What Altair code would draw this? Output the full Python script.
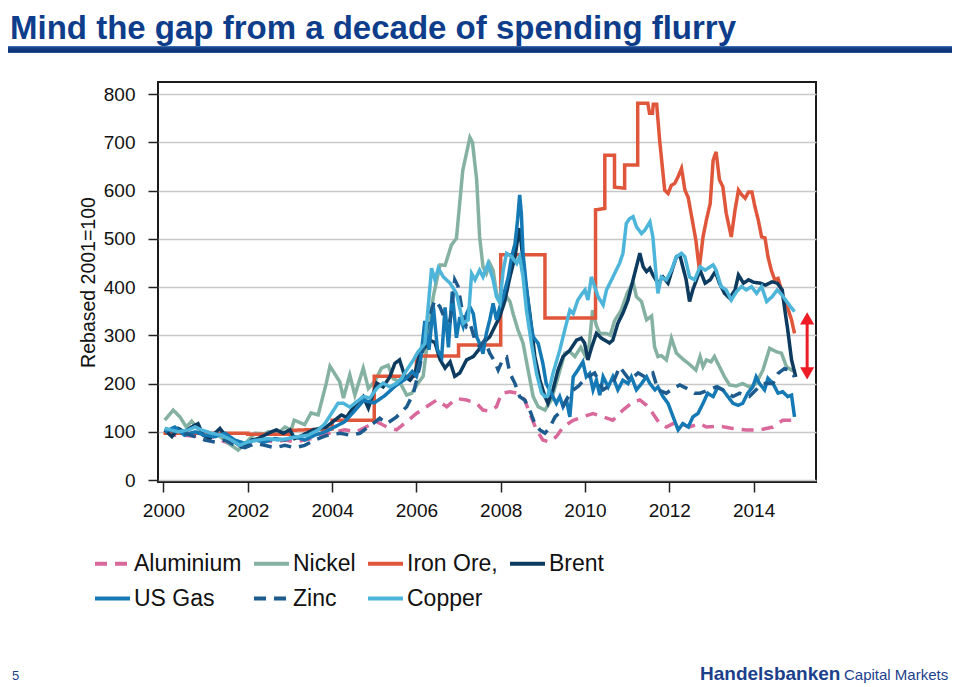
import altair as alt
import pandas as pd

FONT = "Liberation Sans, Arial, Helvetica, sans-serif"

TITLE = "Mind the gap from a decade of spending flurry"
Y_TITLE = "Rebased 2001=100"
X_TICKS = [2000, 2002, 2004, 2006, 2008, 2010, 2012, 2014]
Y_TICKS = [0, 100, 200, 300, 400, 500, 600, 700, 800]

SERIES = ["Aluminium", "Nickel", "Iron Ore,", "Brent", "US Gas", "Zinc", "Copper"]
COLORS = ["#d9689b", "#85b1a3", "#e0563b", "#0c3b5f", "#1479b4", "#1d5b8e", "#4db5da"]
DASHES = [[12, 8], [1, 0], [1, 0], [1, 0], [1, 0], [12, 8], [1, 0]]
# legend is filled column by column (2 rows)
LEGEND_ORDER = ["Aluminium", "US Gas", "Nickel", "Zinc", "Iron Ore,", "Copper", "Brent"]

ALUMINIUM = [(2000.03,100),(2000.27,93),(2000.5,93),(2000.75,91),(2000.98,98),(2001.22,88),(2001.46,79),
    (2001.69,72),(2001.93,76),(2002.17,83),(2002.4,83),(2002.64,79),(2002.88,83),(2003.11,79),(2003.35,83),
    (2003.59,88),(2003.83,95),(2004.06,100),(2004.3,104),(2004.58,100),(2004.85,112),(2005.06,121),(2005.3,110),
    (2005.53,104),(2005.77,121),(2006.0,138),(2006.24,152),(2006.48,166),(2006.72,152),(2006.95,169),(2007.19,166),
    (2007.43,159),(2007.58,145),(2007.74,143),(2007.9,152),(2008.02,180),(2008.22,183),(2008.41,180),(2008.57,166),
    (2008.69,138),(2008.85,104),(2009.0,83),(2009.16,79),(2009.32,90),(2009.48,110),(2009.72,124),(2009.95,131),
    (2010.19,138),(2010.43,131),(2010.66,124),(2010.9,145),(2011.14,162),(2011.3,166),(2011.46,155),(2011.61,138),
    (2011.77,117),(2011.93,110),(2012.09,117),(2012.25,117),(2012.48,110),(2012.72,117),(2012.88,110),(2013.19,112),
    (2013.5,107),(2013.82,104),(2014.14,104),(2014.46,110),(2014.69,124),(2014.93,124)]

NICKEL = [(2000.03,124),(2000.23,145),(2000.39,131),(2000.54,110),(2000.67,122),(2000.78,110),(2000.89,98),
    (2001.05,97),(2001.2,95),(2001.3,93),(2001.53,77),(2001.77,62),(2001.93,75),(2002.17,97),(2002.4,96),
    (2002.48,100),(2002.7,95),(2002.88,110),(2003.03,104),(2003.1,124),(2003.35,115),(2003.5,139),(2003.67,135),
    (2003.78,173),(2003.86,200),(2003.95,236),(2004.18,204),(2004.27,170),(2004.42,218),(2004.54,176),(2004.74,232),
    (2004.86,190),(2005.02,205),(2005.17,232),(2005.33,238),(2005.45,210),(2005.6,204),(2005.77,176),(2005.89,180),
    (2006.04,201),(2006.16,215),(2006.28,297),(2006.4,380),(2006.56,446),(2006.68,445),(2006.83,487),(2006.95,501),
    (2007.1,642),(2007.27,710),(2007.33,700),(2007.43,622),(2007.5,504),(2007.58,442),(2007.66,428),(2007.74,449),
    (2007.82,435),(2007.9,387),(2007.98,373),(2008.06,360),(2008.14,380),(2008.22,370),(2008.29,346),(2008.41,311),
    (2008.53,284),(2008.65,228),(2008.77,173),(2008.89,152),(2009.05,145),(2009.2,166),(2009.36,214),(2009.52,263),
    (2009.64,266),(2009.76,256),(2009.9,275),(2010.0,258),(2010.1,280),(2010.18,352),(2010.27,320),(2010.35,304),
    (2010.5,304),(2010.6,300),(2010.7,330),(2010.86,352),(2011.0,387),(2011.14,411),(2011.22,380),(2011.34,370),
    (2011.46,332),(2011.58,340),(2011.65,276),(2011.73,256),(2011.81,258),(2011.93,249),(2012.05,294),(2012.17,263),
    (2012.33,250),(2012.45,242),(2012.63,228),(2012.73,256),(2012.8,235),(2012.88,249),(2012.99,245),(2013.07,256),
    (2013.19,235),(2013.31,214),(2013.43,197),(2013.59,195),(2013.74,200),(2013.9,193),(2014.06,200),(2014.22,228),
    (2014.38,273),(2014.54,266),(2014.66,263),(2014.78,235),(2014.9,228),(2015.0,225)]

IRON_ORE = [(2000.0,97),(2002.0,97),(2002.0,95),(2003.0,95),(2003.0,103),(2004.0,106),(2004.0,124),(2005.0,124),
    (2005.0,215),(2006.0,215),(2006.0,257),(2007.0,257),(2007.0,280),(2008.0,280),(2008.0,467),(2009.05,467),
    (2009.05,336),(2010.25,336),(2010.25,560),(2010.47,563),(2010.47,673),(2010.7,673),(2010.7,607),(2010.94,605),
    (2010.94,653),(2011.25,653),(2011.25,781),(2011.49,781),(2011.53,760),(2011.6,760),(2011.62,779),(2011.7,779),
    (2011.77,705),(2011.89,601),(2011.97,594),(2012.05,611),(2012.13,615),(2012.21,629),(2012.29,646),(2012.37,601),
    (2012.45,585),(2012.53,546),(2012.63,497),(2012.71,438),(2012.8,504),(2012.88,539),(2012.97,573),(2013.04,663),
    (2013.11,680),(2013.19,622),(2013.27,608),(2013.35,553),(2013.47,504),(2013.56,560),(2013.64,601),(2013.72,591),
    (2013.8,584),(2013.88,597),(2013.96,597),(2014.03,567),(2014.11,539),(2014.19,504),(2014.27,502),(2014.34,463),
    (2014.42,435),(2014.5,415),(2014.58,418),(2014.66,394),(2014.73,366),(2014.81,356),(2014.9,332),(2014.97,304)]

BRENT = [(2000.03,104),(2000.2,90),(2000.35,107),(2000.5,100),(2000.67,110),(2000.82,117),(2000.94,93),
    (2001.1,86),(2001.22,97),(2001.34,107),(2001.46,93),(2001.57,83),(2001.69,79),(2001.85,69),(2001.96,72),
    (2002.09,83),(2002.25,86),(2002.4,93),(2002.56,100),(2002.68,104),(2002.84,97),(2003.0,104),(2003.11,86),
    (2003.23,90),(2003.39,97),(2003.55,104),(2003.71,107),(2003.86,110),(2004.02,121),(2004.22,135),(2004.34,130),
    (2004.54,155),(2004.74,173),(2004.86,149),(2005.06,201),(2005.21,193),(2005.37,214),(2005.49,242),(2005.6,249),
    (2005.73,214),(2005.85,207),(2005.96,220),(2006.08,262),(2006.2,275),(2006.32,290),(2006.44,285),(2006.56,250),
    (2006.68,232),(2006.8,245),(2006.91,215),(2007.03,222),(2007.19,249),(2007.35,256),(2007.47,269),(2007.58,284),
    (2007.74,297),(2007.86,318),(2007.98,339),(2008.1,373),(2008.22,421),(2008.34,463),(2008.41,504),(2008.45,522),
    (2008.57,421),(2008.69,346),(2008.81,256),(2008.93,207),(2009.05,173),(2009.12,159),(2009.24,187),(2009.36,228),
    (2009.48,256),(2009.64,269),(2009.8,290),(2009.91,294),(2009.99,284),(2010.07,249),(2010.16,276),(2010.27,304),
    (2010.39,294),(2010.58,284),(2010.66,290),(2010.78,325),(2010.9,346),(2011.02,373),(2011.14,415),(2011.26,456),
    (2011.3,470),(2011.38,442),(2011.46,432),(2011.54,439),(2011.61,425),(2011.73,408),(2011.85,421),(2011.97,408),
    (2012.09,442),(2012.17,463),(2012.25,466),(2012.32,442),(2012.4,415),(2012.48,370),(2012.56,395),(2012.73,435),
    (2012.85,408),(2012.97,415),(2013.09,432),(2013.19,408),(2013.31,387),(2013.43,377),(2013.56,394),(2013.64,425),
    (2013.76,408),(2013.88,415),(2014.0,410),(2014.16,408),(2014.28,404),(2014.44,411),(2014.56,408),(2014.68,394),
    (2014.73,359),(2014.81,311),(2014.9,249),(2015.0,214)]

US_GAS = [(2000.03,100),(2000.27,110),(2000.5,93),(2000.75,100),(2000.98,93),(2001.22,90),(2001.46,97),
    (2001.69,83),(2001.93,76),(2002.17,83),(2002.4,79),(2002.64,86),(2002.88,83),(2003.11,90),(2003.35,83),
    (2003.59,93),(2003.83,100),(2004.06,110),(2004.3,121),(2004.5,140),(2004.75,165),(2005.0,160),(2005.25,175),
    (2005.5,195),(2005.75,210),(2005.9,225),(2006.0,215),(2006.1,250),(2006.2,330),(2006.3,270),(2006.4,362),
    (2006.5,270),(2006.6,255),(2006.68,358),(2006.76,275),(2006.85,390),(2006.95,295),(2007.03,338),(2007.11,318),
    (2007.19,345),(2007.27,359),(2007.35,345),(2007.43,297),(2007.5,283),(2007.58,262),(2007.66,304),(2007.74,332),
    (2007.82,366),(2007.9,332),(2007.98,359),(2008.06,380),(2008.18,421),(2008.26,463),(2008.34,490),(2008.4,539),
    (2008.45,591),(2008.49,553),(2008.53,470),(2008.61,401),(2008.69,339),(2008.77,297),(2008.89,283),(2009.0,242),
    (2009.08,200),(2009.2,180),(2009.32,159),(2009.4,173),(2009.48,152),(2009.56,166),(2009.64,131),(2009.72,214),
    (2009.83,228),(2009.95,245),(2010.03,214),(2010.11,221),(2010.19,187),(2010.27,207),(2010.35,176),(2010.43,214),
    (2010.55,193),(2010.66,214),(2010.78,187),(2010.9,207),(2011.02,200),(2011.1,214),(2011.22,187),(2011.34,200),
    (2011.46,214),(2011.54,200),(2011.66,187),(2011.73,193),(2011.85,173),(2011.97,159),(2012.09,131),(2012.21,104),
    (2012.32,117),(2012.45,110),(2012.56,131),(2012.68,138),(2012.8,159),(2012.91,180),(2013.04,173),(2013.15,193),
    (2013.27,187),(2013.39,173),(2013.51,159),(2013.63,155),(2013.74,159),(2013.86,180),(2013.98,193),(2014.06,214),
    (2014.14,200),(2014.26,187),(2014.34,211),(2014.46,200),(2014.58,180),(2014.69,183),(2014.81,173),(2014.9,176),
    (2014.97,131)]

ZINC = [(2000.03,107),(2000.27,100),(2000.5,97),(2000.75,90),(2000.98,83),(2001.22,79),(2001.46,83),(2001.69,72),
    (2001.93,67),(2002.17,76),(2002.4,72),(2002.64,67),(2002.88,72),(2003.11,67),(2003.35,72),(2003.59,83),
    (2003.83,91),(2004.0,95),(2004.2,97),(2004.42,93),(2004.66,97),(2004.97,117),(2005.13,128),(2005.3,117),
    (2005.53,131),(2005.77,152),(2005.93,180),(2006.08,235),(2006.2,290),(2006.32,345),(2006.44,373),(2006.56,359),
    (2006.68,332),(2006.8,330),(2006.91,415),(2006.99,401),(2007.11,339),(2007.19,318),(2007.27,325),(2007.39,290),
    (2007.5,276),(2007.62,290),(2007.74,263),(2007.86,245),(2007.94,228),(2008.06,252),(2008.14,255),(2008.22,221),
    (2008.34,200),(2008.45,173),(2008.57,166),(2008.69,145),(2008.81,117),(2008.93,104),(2009.05,97),(2009.17,110),
    (2009.29,131),(2009.4,140),(2009.55,165),(2009.7,185),(2009.85,195),(2010.0,210),(2010.23,222),(2010.43,187),
    (2010.66,200),(2010.82,235),(2011.06,207),(2011.26,222),(2011.42,214),(2011.61,222),(2011.73,187),(2011.93,180),
    (2012.09,190),(2012.25,197),(2012.41,190),(2012.6,180),(2012.73,180),(2012.88,185),(2013.11,193),(2013.27,187),
    (2013.51,173),(2013.67,180),(2013.9,173),(2014.06,187),(2014.22,200),(2014.46,200),(2014.58,221),(2014.73,231),
    (2014.85,228),(2014.97,214)]

COPPER = [(2000.03,107),(2000.35,100),(2000.59,104),(2000.75,110),(2000.9,104),(2001.14,97),(2001.38,93),
    (2001.61,83),(2001.81,72),(2002.0,79),(2002.25,83),(2002.48,86),(2002.72,83),(2002.95,86),(2003.2,90),
    (2003.43,93),(2003.67,104),(2003.83,117),(2004.0,140),(2004.14,159),(2004.27,159),(2004.42,151),(2004.58,162),
    (2004.74,173),(2004.9,170),(2005.06,190),(2005.21,201),(2005.37,193),(2005.53,201),(2005.65,211),(2005.77,228),
    (2005.93,249),(2006.04,266),(2006.2,283),(2006.28,359),(2006.36,439),(2006.44,415),(2006.52,439),(2006.64,421),
    (2006.8,408),(2006.95,387),(2007.11,325),(2007.23,332),(2007.31,428),(2007.39,415),(2007.5,435),(2007.58,421),
    (2007.7,449),(2007.82,415),(2007.9,380),(2007.98,367),(2008.06,435),(2008.14,470),(2008.26,463),(2008.38,449),
    (2008.45,463),(2008.53,421),(2008.61,352),(2008.73,283),(2008.85,221),(2008.97,180),(2009.05,173),(2009.12,175),
    (2009.24,221),(2009.4,269),(2009.56,325),(2009.64,352),(2009.72,345),(2009.83,373),(2009.92,385),(2010.0,394),
    (2010.07,373),(2010.15,421),(2010.23,401),(2010.31,380),(2010.43,363),(2010.51,394),(2010.63,415),(2010.74,435),
    (2010.82,449),(2010.9,470),(2010.98,532),(2011.06,542),(2011.14,546),(2011.22,525),(2011.34,511),(2011.42,518),
    (2011.54,535),(2011.61,504),(2011.69,421),(2011.73,387),(2011.81,421),(2011.93,415),(2012.05,435),(2012.17,463),
    (2012.29,470),(2012.37,463),(2012.48,421),(2012.6,415),(2012.73,442),(2012.85,435),(2012.97,442),(2013.04,446),
    (2013.11,435),(2013.23,401),(2013.35,394),(2013.47,373),(2013.59,390),(2013.71,401),(2013.83,394),(2013.95,401),
    (2014.07,387),(2014.19,401),(2014.31,370),(2014.44,380),(2014.56,394),(2014.64,387),(2014.76,373),(2014.88,359),
    (2014.97,349)]

# gap annotation (double-headed arrow) at the right end
ARROW_X = [2015.27]
ARROW_TOP = [335]
ARROW_BOTTOM = [221]

ALL = [ALUMINIUM, NICKEL, IRON_ORE, BRENT, US_GAS, ZINC, COPPER]
rows = []
for name, pts in zip(SERIES, ALL):
    for i, (t, v) in enumerate(pts):
        rows.append({"series": name, "t": t, "v": v, "i": i})
df = pd.DataFrame(rows)
arrow_df = pd.DataFrame({"ax": ARROW_X, "atop": ARROW_TOP, "abot": ARROW_BOTTOM})
one = pd.DataFrame({"k": [0]})

color_of = dict(zip(SERIES, COLORS))
dash_of = dict(zip(SERIES, DASHES))

xscale = alt.Scale(domain=[1999.87, 2015.48], nice=False, zero=False)
yscale = alt.Scale(domain=[-4, 825], nice=False, zero=False)

x_axis = alt.Axis(values=X_TICKS, format="d", title=None, grid=False, domain=False,
                  tickSize=10, tickColor="#222", tickWidth=1.5, labelFontSize=19,
                  labelFont=FONT, labelColor="#111", labelPadding=9, labelFlush=False)
y_axis = alt.Axis(values=Y_TICKS, title=Y_TITLE, titleFontSize=19.5, titleFontWeight="normal",
                  titleFont=FONT, titleColor="#111", titlePadding=5, grid=True,
                  gridColor="#c8c8c8", gridWidth=1.5, domain=False, tickSize=10,
                  tickColor="#222", tickWidth=1.5, labelFontSize=19, labelFont=FONT,
                  labelColor="#111", labelPadding=13)

legend = alt.Legend(title=None, orient="none", legendX=-65, legendY=462, columns=4,
                    columnPadding=4, rowPadding=3, symbolType="stroke", symbolSize=1225,
                    symbolStrokeWidth=4, labelFontSize=23, labelFont=FONT, labelColor="#111",
                    labelOffset=2, padding=0, labelLimit=300)

color_enc = alt.Color("series:N", scale=alt.Scale(domain=LEGEND_ORDER,
                      range=[color_of[s] for s in LEGEND_ORDER]), legend=legend)
dash_enc = alt.StrokeDash("series:N", scale=alt.Scale(domain=LEGEND_ORDER,
                          range=[dash_of[s] for s in LEGEND_ORDER]), legend=legend)

layers = []
for name in SERIES:
    layers.append(
        alt.Chart(df).transform_filter(alt.datum.series == name)
        .mark_line(strokeWidth=3.5)
        .encode(
            x=alt.X("t:Q", scale=xscale, axis=x_axis),
            y=alt.Y("v:Q", scale=yscale, axis=y_axis),
            color=color_enc,
            strokeDash=dash_enc,
            order=alt.Order("i:Q"),
        )
    )

RED = "#ee1c24"
arrow_shaft = alt.Chart(arrow_df).mark_rule(color=RED, strokeWidth=3).encode(
    x=alt.X("ax:Q", scale=xscale, axis=x_axis),
    y=alt.Y("atop:Q", scale=yscale, axis=y_axis),
    y2="abot:Q",
)
arrow_up = alt.Chart(arrow_df).mark_point(shape="triangle-up", filled=True, size=200,
                                          color=RED, opacity=1).encode(
    x=alt.X("ax:Q", scale=xscale, axis=x_axis),
    y=alt.Y("atop:Q", scale=yscale, axis=y_axis),
)
arrow_down = alt.Chart(arrow_df).mark_point(shape="triangle-down", filled=True, size=200,
                                            color=RED, opacity=1).encode(
    x=alt.X("ax:Q", scale=xscale, axis=x_axis),
    y=alt.Y("abot:Q", scale=yscale, axis=y_axis),
)

title_text = alt.Chart(one).mark_text(
    align="left", baseline="alphabetic", fontSize=33, fontWeight="bold", font=FONT,
    color="#0e3d8b"
).encode(x=alt.value(-148), y=alt.value(-43), text=alt.value(TITLE))

title_bar = alt.Chart(one).mark_rect(
    color=alt.Gradient(gradient="linear", x1=0, x2=0, y1=0, y2=1,
                       stops=[alt.GradientStop(color="#4a7bbb", offset=0),
                              alt.GradientStop(color="#123f88", offset=0.25),
                              alt.GradientStop(color="#0b3274", offset=0.8),
                              alt.GradientStop(color="#3a67a8", offset=1)])
).encode(x=alt.value(-153), x2=alt.value(800), y=alt.value(-36), y2=alt.value(-29))

page_no = alt.Chart(one).mark_text(
    align="left", baseline="alphabetic", fontSize=13, font=FONT, color="#1c3f8c"
).encode(x=alt.value(-146), y=alt.value(598), text=alt.value("5"))

brand_a = alt.Chart(one).mark_text(
    align="left", baseline="alphabetic", fontSize=19, fontWeight="bold", font=FONT, color="#1c3f8c"
).encode(x=alt.value(542), y=alt.value(598), text=alt.value("Handelsbanken"))

brand_b = alt.Chart(one).mark_text(
    align="left", baseline="alphabetic", fontSize=15, font=FONT, color="#1c3f8c"
).encode(x=alt.value(686), y=alt.value(598), text=alt.value("Capital Markets"))

chart = alt.layer(
    *layers, arrow_shaft, arrow_up, arrow_down,
    title_text, title_bar, page_no, brand_a, brand_b
).properties(
    width=658, height=400,
    autosize=alt.AutoSizeParams(type="none"),
    padding={"left": 150, "top": 74, "right": 136, "bottom": 202},
).configure(font=FONT).configure_view(stroke="#1a1a1a", strokeWidth=2)

chart.save("out.html", embed_options={"renderer": "svg", "actions": False})
